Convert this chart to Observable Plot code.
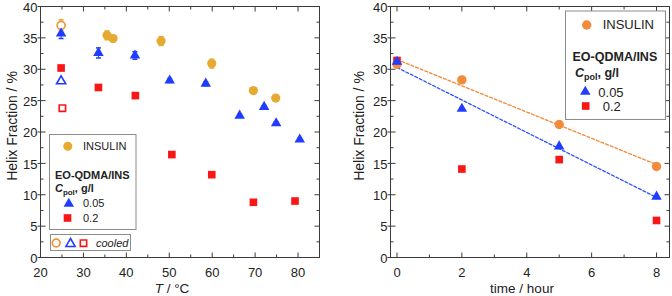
<!DOCTYPE html>
<html><head><meta charset="utf-8">
<script src="https://cdn.jsdelivr.net/npm/d3@7"></script>
<script src="https://cdn.jsdelivr.net/npm/@observablehq/plot@0.6"></script>
<style>
body{margin:0;background:#fff;}
#wrap{position:relative;width:672px;height:296px;overflow:hidden;}
#left,#right{position:absolute;top:0;}
#left{left:0}#right{left:336px}
</style></head><body><div id="wrap"><div id="left"></div><div id="right"></div></div>
<script>
// ---------- data: left panel (Helix fraction vs temperature) ----------
const insulinT     = [35.5, 36.9, 48.1, 59.9, 69.6, 74.8];
const insulinHelix = [35.4, 34.9, 34.5, 30.9, 26.6, 25.4];
const insulinErr   = [0.7, 0.5, 0.7, 0.7, 0.3, 0.3];
const pol005T      = [24.8, 33.5, 42.0, 50.1, 58.5, 66.4, 72.1, 74.9, 80.4];
const pol005Helix  = [35.7, 32.6, 32.2, 28.2, 27.7, 22.6, 24.0, 21.4, 18.8];
const pol005Err    = [0.8, 0.8, 0.6, 0.3, 0.3, 0.2, 0.2, 0.2, 0.2];
const pol02T       = [24.8, 33.5, 42.1, 50.6, 59.9, 69.6, 79.3];
const pol02Helix   = [30.2, 27.1, 25.8, 16.4, 13.2, 8.8, 9.0];
const pol02Err     = [0.4, 0.4, 0.4, 0.2, 0.2, 0.2, 0.2];
// cooled samples: [insulin, 0.05 g/l, 0.2 g/l]
const cooledT      = [24.8, 24.8, 25.1];
const cooledHelix  = [37.0, 28.1, 23.8];
const cooledErr    = [0.9, 0.3, 0.3];
// ---------- data: right panel (Helix fraction vs time) ----------
const timeH        = [0, 2, 5, 8];
const timeInsulin  = [30.8, 28.3, 21.2, 14.5];
const time005      = [31.2, 23.7, 17.7, 9.7];
const time02       = [31.4, 14.1, 15.6, 5.9];
// ---------- ticks ----------
const leftXTicks  = [20, 30, 40, 50, 60, 70, 80];
const leftXMinor  = [25, 35, 45, 55, 65, 75];
const rightXTicks = [0, 2, 4, 6, 8];
const rightXMinor = [1, 3, 5, 7];
const yTicks      = [0, 5, 10, 15, 20, 25, 30, 35, 40];
const yMinor      = [2.5, 7.5, 12.5, 17.5, 22.5, 27.5, 32.5, 37.5];

const font = "'Liberation Sans', Arial, sans-serif";
const gold = "#e6aa32", orange = "#f28b3c", blue = "#1f3cff", red = "#fb1616", axisC = "#3a3a3a";

const rows = (xs, ys, es) => xs.map((x, i) => ({x, y: ys[i], e: es ? es[i] : 0}));
const seg = (x1, y1, x2, y2) => ({draw(ctx) { ctx.moveTo(x1, y1); ctx.lineTo(x2, y2); }});

function frameTicks(xMajor, xMinor) {
  const st = {stroke: axisC, strokeWidth: 1, fill: "none"};
  return [
    Plot.dot(xMajor, {x: d => d, frameAnchor: "bottom", symbol: seg(0, 0, 0, -5), ...st}),
    Plot.dot(xMinor, {x: d => d, frameAnchor: "bottom", symbol: seg(0, 0, 0, -3), ...st}),
    Plot.dot(xMajor, {x: d => d, frameAnchor: "top", symbol: seg(0, 0, 0, 5), ...st}),
    Plot.dot(xMinor, {x: d => d, frameAnchor: "top", symbol: seg(0, 0, 0, 3), ...st}),
    Plot.dot(yTicks, {y: d => d, frameAnchor: "left", symbol: seg(-3, 0, 5, 0), ...st}),
    Plot.dot(yMinor, {y: d => d, frameAnchor: "left", symbol: seg(0, 0, 3, 0), ...st}),
    Plot.dot(yTicks, {y: d => d, frameAnchor: "right", symbol: seg(0, 0, -5, 0), ...st}),
    Plot.dot(yMinor, {y: d => d, frameAnchor: "right", symbol: seg(0, 0, -3, 0), ...st})
  ];
}
function errBars(data, color) {
  const d = data.filter(r => r.e > 0);
  return [
    Plot.ruleX(d, {x: "x", y1: r => r.y - r.e, y2: r => r.y + r.e, stroke: color, strokeWidth: 1}),
    Plot.dot(d, {x: "x", y: r => r.y + r.e, symbol: seg(-2.5, 0, 2.5, 0), stroke: color, fill: "none"}),
    Plot.dot(d, {x: "x", y: r => r.y - r.e, symbol: seg(-2.5, 0, 2.5, 0), stroke: color, fill: "none"})
  ];
}
const style = {fontFamily: font, fontSize: "13px", color: "#222", background: "transparent"};

const insRows = rows(insulinT, insulinHelix, insulinErr);
const p005Rows = rows(pol005T, pol005Helix, pol005Err);
const p02Rows = rows(pol02T, pol02Helix, pol02Err);
const coolIns = rows([cooledT[0]], [cooledHelix[0]], [cooledErr[0]]);
const cool005 = rows([cooledT[1]], [cooledHelix[1]], [cooledErr[1]]);
const cool02 = rows([cooledT[2]], [cooledHelix[2]], [cooledErr[2]]);

const left = Plot.plot({
  width: 336, height: 296, marginLeft: 40, marginRight: 17, marginTop: 6, marginBottom: 39,
  x: {domain: [20, 85]}, y: {domain: [0, 40]}, style,
  marks: [
    Plot.frame({stroke: axisC, strokeWidth: 1}),
    ...frameTicks(leftXTicks, leftXMinor),
    Plot.axisX({ticks: leftXTicks, tickSize: 0, tickPadding: 10, fontSize: 13, label: null}),
    Plot.axisY({ticks: yTicks, tickSize: 0, tickPadding: 3, fontSize: 13, dy: 1, label: null}),
    ...errBars(coolIns, gold), ...errBars(p005Rows, blue), ...errBars(insRows, gold), ...errBars(p02Rows, red),
    Plot.dot(coolIns, {x: "x", y: "y", r: 4, symbol: "circle", fill: "white", stroke: "#f0922e", strokeWidth: 1.6}),
    Plot.dot(p005Rows, {x: "x", y: "y", r: 3.9, symbol: "triangle", fill: blue}),
    Plot.dot(cool005, {x: "x", y: "y", r: 3.4, symbol: "triangle", fill: "white", stroke: blue, strokeWidth: 1.6}),
    Plot.dot(insRows, {x: "x", y: "y", r: 4.6, symbol: "circle", fill: gold}),
    Plot.dot(p02Rows, {x: "x", y: "y", r: 4.3, symbol: "square", fill: red}),
    Plot.dot(cool02, {x: "x", y: "y", r: 3.6, symbol: "square", fill: "white", stroke: red, strokeWidth: 1.6})
  ]
});
document.getElementById("left").append(left);

const tIns = rows(timeH, timeInsulin), t005 = rows(timeH, time005), t02 = rows(timeH, time02);
const right = Plot.plot({
  width: 336, height: 296, marginLeft: 54, marginRight: 3, marginTop: 6, marginBottom: 39,
  x: {domain: [-0.2, 8.4]}, y: {domain: [0, 40]}, style,
  marks: [
    Plot.frame({stroke: axisC, strokeWidth: 1}),
    ...frameTicks(rightXTicks, rightXMinor),
    Plot.axisX({ticks: rightXTicks, tickSize: 0, tickPadding: 10, fontSize: 13, label: null}),
    Plot.axisY({ticks: yTicks, tickSize: 0, tickPadding: 3, fontSize: 13, dy: 1, label: null}),
    Plot.linearRegressionY(tIns, {x: "x", y: "y", ci: 0, stroke: orange, strokeWidth: 1.3, strokeDasharray: "3,2"}),
    Plot.linearRegressionY(t005, {x: "x", y: "y", ci: 0, stroke: "#2f52ff", strokeWidth: 1.3, strokeDasharray: "3,2"}),
    Plot.dot(tIns, {x: "x", y: "y", r: 4.7, symbol: "circle", fill: orange}),
    Plot.dot(t02, {x: "x", y: "y", r: 4.3, symbol: "square", fill: red}),
    Plot.dot(t005, {x: "x", y: "y", r: 3.9, symbol: "triangle", fill: blue})
  ]
});
document.getElementById("right").append(right);

// ---------- overlay: axis titles and legends ----------
const ov = d3.select("#wrap").append("svg")
  .attr("width", 672).attr("height", 296)
  .style("position", "absolute").style("left", 0).style("top", 0)
  .style("font-family", font).attr("fill", "#222");

function yTitle(x) {
  ov.append("text").attr("transform", `translate(${x},126) rotate(-90)`)
    .attr("text-anchor", "middle").attr("font-size", 14).text("Helix Fraction / %");
}
yTitle(16.5); yTitle(364);
const tt = ov.append("text").attr("x", 172).attr("y", 292.5).attr("text-anchor", "middle").attr("font-size", 13.5);
tt.append("tspan").attr("font-style", "italic").text("T");
tt.append("tspan").text(" / °C");
ov.append("text").attr("x", 522).attr("y", 292.5).attr("text-anchor", "middle").attr("font-size", 13.5).text("time / hour");

const sym = (type, r) => d3.symbol(type, Math.PI * r * r)();
function marker(x, y, type, r, fill, stroke) {
  ov.append("path").attr("d", sym(type, r)).attr("transform", `translate(${x},${y})`)
    .attr("fill", fill).attr("stroke", stroke || "none").attr("stroke-width", stroke ? 1.6 : 0);
}
function label(x, y, size, txt, opts = {}) {
  const t = ov.append("text").attr("x", x).attr("y", y).attr("font-size", size);
  if (opts.bold) t.attr("font-weight", "bold");
  if (opts.italic) t.attr("font-style", "italic");
  return t.text(txt);
}
function cpol(x, y, size) {
  const t = ov.append("text").attr("x", x).attr("y", y).attr("font-size", size).attr("font-weight", "bold");
  t.append("tspan").attr("font-style", "italic").text("C");
  t.append("tspan").attr("font-size", size * 0.72).attr("dy", size * 0.28).text("pol");
  t.append("tspan").attr("dy", -size * 0.28).text(", g/l");
}

// left legend
ov.append("rect").attr("x", 49.5).attr("y", 134.5).attr("width", 86.5).attr("height", 95)
  .attr("fill", "white").attr("stroke", "#8c8c8c");
marker(67.8, 146.2, d3.symbolCircle, 4.5, gold);
label(83, 150, 11, "INSULIN");
label(55, 178.5, 11, "EO-QDMA/INS", {bold: true});
cpol(55, 191.5, 11);
marker(68.8, 203.8, d3.symbolTriangle, 3.9, blue);
label(83, 207.3, 11, "0.05");
marker(67.5, 218, d3.symbolSquare, 4.3, red);
label(83, 221.7, 11, "0.2");
ov.append("rect").attr("x", 50.5).attr("y", 234.5).attr("width", 80).attr("height", 16)
  .attr("fill", "white").attr("stroke", "#8c8c8c");
marker(56.2, 243, d3.symbolCircle, 3.9, "white", "#f0922e");
marker(70.5, 243.8, d3.symbolTriangle, 3.4, "white", blue);
marker(83.5, 243.2, d3.symbolSquare, 3.6, "white", red);
label(96, 246.5, 11, "cooled", {italic: true});

// right legend
ov.append("rect").attr("x", 565.5).attr("y", 11).attr("width", 100).attr("height", 108.5)
  .attr("fill", "white").attr("stroke", "#8c8c8c");
marker(586.7, 25, d3.symbolCircle, 4.7, orange);
label(602.7, 29, 13, "INSULIN");
label(572.5, 60.7, 12.5, "EO-QDMA/INS", {bold: true});
cpol(575, 76.7, 12.5);
marker(585.3, 91.8, d3.symbolTriangle, 3.9, blue);
label(598.3, 96.7, 13, "0.05");
marker(585.7, 106, d3.symbolSquare, 4.3, red);
label(602.7, 111, 13, "0.2");
</script></body></html>
